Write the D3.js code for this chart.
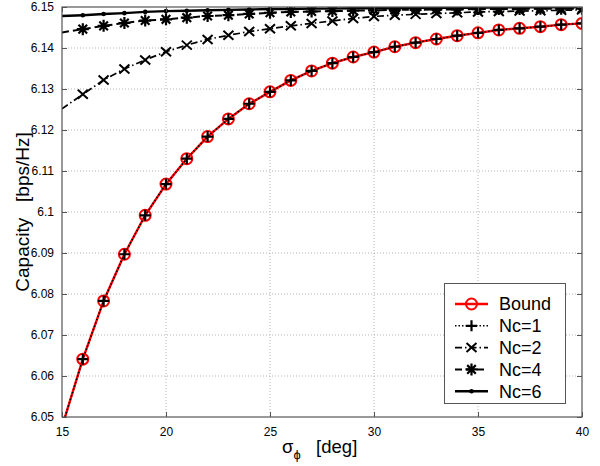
<!DOCTYPE html>
<html>
<head>
<meta charset="utf-8">
<script src="https://cdn.jsdelivr.net/npm/d3@7"></script>
<style>
  body { margin: 0; background: #fff; }
  svg { font-family: Arial, "Liberation Sans", Helvetica, sans-serif; }
</style>
</head>
<body>
<div id="main"></div>
<script>
// sigma_phi in degrees
const sigma = [15, 16, 17, 18, 19, 20, 21, 22, 23, 24, 25, 26, 27, 28, 29, 30,
               31, 32, 33, 34, 35, 36, 37, 38, 39, 40];

const bound = [6.0476, 6.0641, 6.0783, 6.0897, 6.0992, 6.1068, 6.1130, 6.1184, 6.1227,
               6.1264, 6.1293, 6.1321, 6.1344, 6.1363, 6.1378, 6.1390, 6.1403, 6.1413,
               6.1422, 6.1430, 6.1437, 6.1444, 6.1448, 6.1452, 6.1457, 6.1460];
const nc1 = [6.0476, 6.0641, 6.0783, 6.0897, 6.0992, 6.1068, 6.1130, 6.1184, 6.1227,
             6.1264, 6.1293, 6.1321, 6.1344, 6.1363, 6.1378, 6.1390, 6.1403, 6.1413,
             6.1422, 6.1430, 6.1437, 6.1444, 6.1448, 6.1452, 6.1457, 6.1460];
const nc2 = [6.1252, 6.1287, 6.1322, 6.1349, 6.1371, 6.1391, 6.1407, 6.1421, 6.1431,
             6.1440, 6.1447, 6.1454, 6.1460, 6.1466, 6.1472, 6.1477, 6.1480, 6.1482,
             6.1484, 6.1486, 6.1488, 6.1489, 6.1490, 6.1491, 6.1492, 6.1493];
const nc4 = [6.1438, 6.1446, 6.1454, 6.1461, 6.1467, 6.1470, 6.1474, 6.1478, 6.1480,
             6.1483, 6.1486, 6.1488, 6.1489, 6.1490, 6.1491, 6.1492, 6.1493, 6.1493,
             6.1494, 6.1494, 6.1495, 6.1495, 6.1495, 6.1496, 6.1496, 6.1496];
const nc6 = [6.1478, 6.1480, 6.1483, 6.1485, 6.1488, 6.1490, 6.1491, 6.1492, 6.1493,
             6.1494, 6.1495, 6.1495, 6.1496, 6.1496, 6.1497, 6.1497, 6.1497, 6.1498,
             6.1498, 6.1498, 6.1498, 6.1499, 6.1499, 6.1499, 6.1499, 6.1499];

const xTicks = [15, 20, 25, 30, 35, 40];
const yTicks = [6.05, 6.06, 6.07, 6.08, 6.09, 6.1, 6.11, 6.12, 6.13, 6.14, 6.15];
const yTickLabels = ["6.05", "6.06", "6.07", "6.08", "6.09", "6.1", "6.11", "6.12", "6.13", "6.14", "6.15"];
const seriesNames = ["Bound", "Nc=1", "Nc=2", "Nc=4", "Nc=6"];

const ctx = {
    W: 600, H: 466,
    left: 62, right: 582, top: 7, bottom: 417
};

const series = [
    { name: seriesNames[0], vals: bound, color: "#ff0000", width: 2.4, dash: null, marker: "o" },
    { name: seriesNames[1], vals: nc1, color: "#000", width: 1.5, dash: "1.5,2", marker: "+" },
    { name: seriesNames[2], vals: nc2, color: "#000", width: 1.7, dash: "7,3,1.5,3", marker: "x" },
    { name: seriesNames[3], vals: nc4, color: "#000", width: 2, dash: "7,4", marker: "*" },
    { name: seriesNames[4], vals: nc6, color: "#000", width: 2.4, dash: null, marker: "." }
];

function drawMarker(g, type, color) {
    if (type === "o") {
        g.append("circle").attr("r", 5.5).attr("fill", "none")
            .attr("stroke", color).attr("stroke-width", 2);
    } else if (type === "+") {
        g.append("path").attr("d", "M-5.5,0H5.5M0,-5.5V5.5")
            .attr("stroke", color).attr("stroke-width", 2.2);
    } else if (type === "x") {
        g.append("path").attr("d", "M-5,-4.5L5,4.5M-5,4.5L5,-4.5")
            .attr("stroke", color).attr("stroke-width", 2);
    } else if (type === "*") {
        g.append("path").attr("d", "M-6,0H6M0,-6V6M-4.3,-4.3L4.3,4.3M-4.3,4.3L4.3,-4.3")
            .attr("stroke", color).attr("stroke-width", 2.2);
    } else if (type === ".") {
        g.append("circle").attr("r", 2.3).attr("fill", color);
    }
}

function createViz() {
    const svg = d3.select("#main").append("svg")
        .attr("width", ctx.W)
        .attr("height", ctx.H);

    const x = d3.scaleLinear().domain([15, 40]).range([ctx.left, ctx.right]);
    const y = d3.scaleLinear().domain([6.05, 6.15]).range([ctx.bottom, ctx.top]);

    svg.append("defs").append("clipPath").attr("id", "plotclip")
        .append("rect")
        .attr("x", ctx.left).attr("y", ctx.top)
        .attr("width", ctx.right - ctx.left).attr("height", ctx.bottom - ctx.top);

    // grid
    const grid = svg.append("g");
    grid.selectAll(".gx").data(xTicks.slice(1, -1)).enter().append("line")
        .attr("x1", d => x(d)).attr("x2", d => x(d))
        .attr("y1", ctx.top).attr("y2", ctx.bottom)
        .attr("stroke", "#b4b4b4").attr("stroke-dasharray", "1,2");
    grid.selectAll(".gy").data(yTicks.slice(1, -1)).enter().append("line")
        .attr("x1", ctx.left).attr("x2", ctx.right)
        .attr("y1", d => y(d)).attr("y2", d => y(d))
        .attr("stroke", "#b4b4b4").attr("stroke-dasharray", "1,2");

    // curves
    const plot = svg.append("g").attr("clip-path", "url(#plotclip)");
    const line = d3.line().x((d, i) => x(sigma[i])).y(d => y(d));
    series.forEach(s => {
        plot.append("path")
            .attr("d", line(s.vals))
            .attr("fill", "none")
            .attr("stroke", s.color)
            .attr("stroke-width", s.width)
            .attr("stroke-dasharray", s.dash);
        s.vals.forEach((v, i) => {
            if (sigma[i] <= 15 || v < 6.05) return;
            const g = plot.append("g").attr("transform", `translate(${x(sigma[i])},${y(v)})`);
            drawMarker(g, s.marker, s.color);
        });
    });

    // axes box and ticks
    const axisColor = "#555";
    svg.append("rect")
        .attr("x", ctx.left).attr("y", ctx.top)
        .attr("width", ctx.right - ctx.left).attr("height", ctx.bottom - ctx.top)
        .attr("fill", "none").attr("stroke", axisColor).attr("stroke-width", 1.2);

    const xAxis = d3.axisBottom(x).tickValues(xTicks).tickSize(-5).tickPadding(10);
    svg.append("g").attr("transform", `translate(0,${ctx.bottom})`).call(xAxis)
        .call(g => g.select(".domain").remove());
    svg.append("g").attr("transform", `translate(0,${ctx.top})`)
        .call(d3.axisTop(x).tickValues(xTicks).tickSize(-5).tickFormat(""))
        .call(g => g.select(".domain").remove());

    const yAxis = d3.axisLeft(y).tickValues(yTicks).tickSize(-5).tickPadding(8)
        .tickFormat((d, i) => yTickLabels[i]);
    svg.append("g").attr("transform", `translate(${ctx.left},0)`).call(yAxis)
        .call(g => g.select(".domain").remove());
    svg.append("g").attr("transform", `translate(${ctx.right},0)`)
        .call(d3.axisRight(y).tickValues(yTicks).tickSize(-5).tickFormat(""))
        .call(g => g.select(".domain").remove());

    svg.selectAll(".tick line").attr("stroke", axisColor);
    svg.selectAll(".tick text").attr("fill", "#000")
        .style("font-size", "12px").style("font-family", "Arial, 'Liberation Sans', sans-serif");

    // axis labels
    svg.append("text")
        .attr("transform", "translate(29,212) rotate(-90)")
        .attr("text-anchor", "middle")
        .style("font-size", "19px")
        .attr("xml:space", "preserve")
        .text("Capacity   [bps/Hz]");

    const xl = svg.append("text")
        .attr("x", 282).attr("y", 453)
        .style("font-size", "18.5px")
        .attr("xml:space", "preserve");
    xl.append("tspan").text("σ");
    xl.append("tspan").attr("dy", 6).style("font-size", "13px").text("ϕ");
    xl.append("tspan").attr("dy", -6).text("   [deg]");

    // legend
    const lg = svg.append("g");
    lg.append("rect")
        .attr("x", 444.5).attr("y", 283.5).attr("width", 121).attr("height", 120)
        .attr("fill", "#fff").attr("stroke", axisColor).attr("stroke-width", 1);
    series.forEach((s, i) => {
        const yy = 304 + i * 21.8;
        lg.append("line")
            .attr("x1", 455).attr("x2", 488).attr("y1", yy).attr("y2", yy)
            .attr("stroke", s.color).attr("stroke-width", s.width)
            .attr("stroke-dasharray", s.dash);
        drawMarker(lg.append("g").attr("transform", `translate(471.5,${yy})`), s.marker, s.color);
        lg.append("text")
            .attr("x", 499).attr("y", yy).attr("dy", "0.36em")
            .style("font-size", "18px")
            .text(s.name);
    });
}

createViz();
</script>
</body>
</html>
